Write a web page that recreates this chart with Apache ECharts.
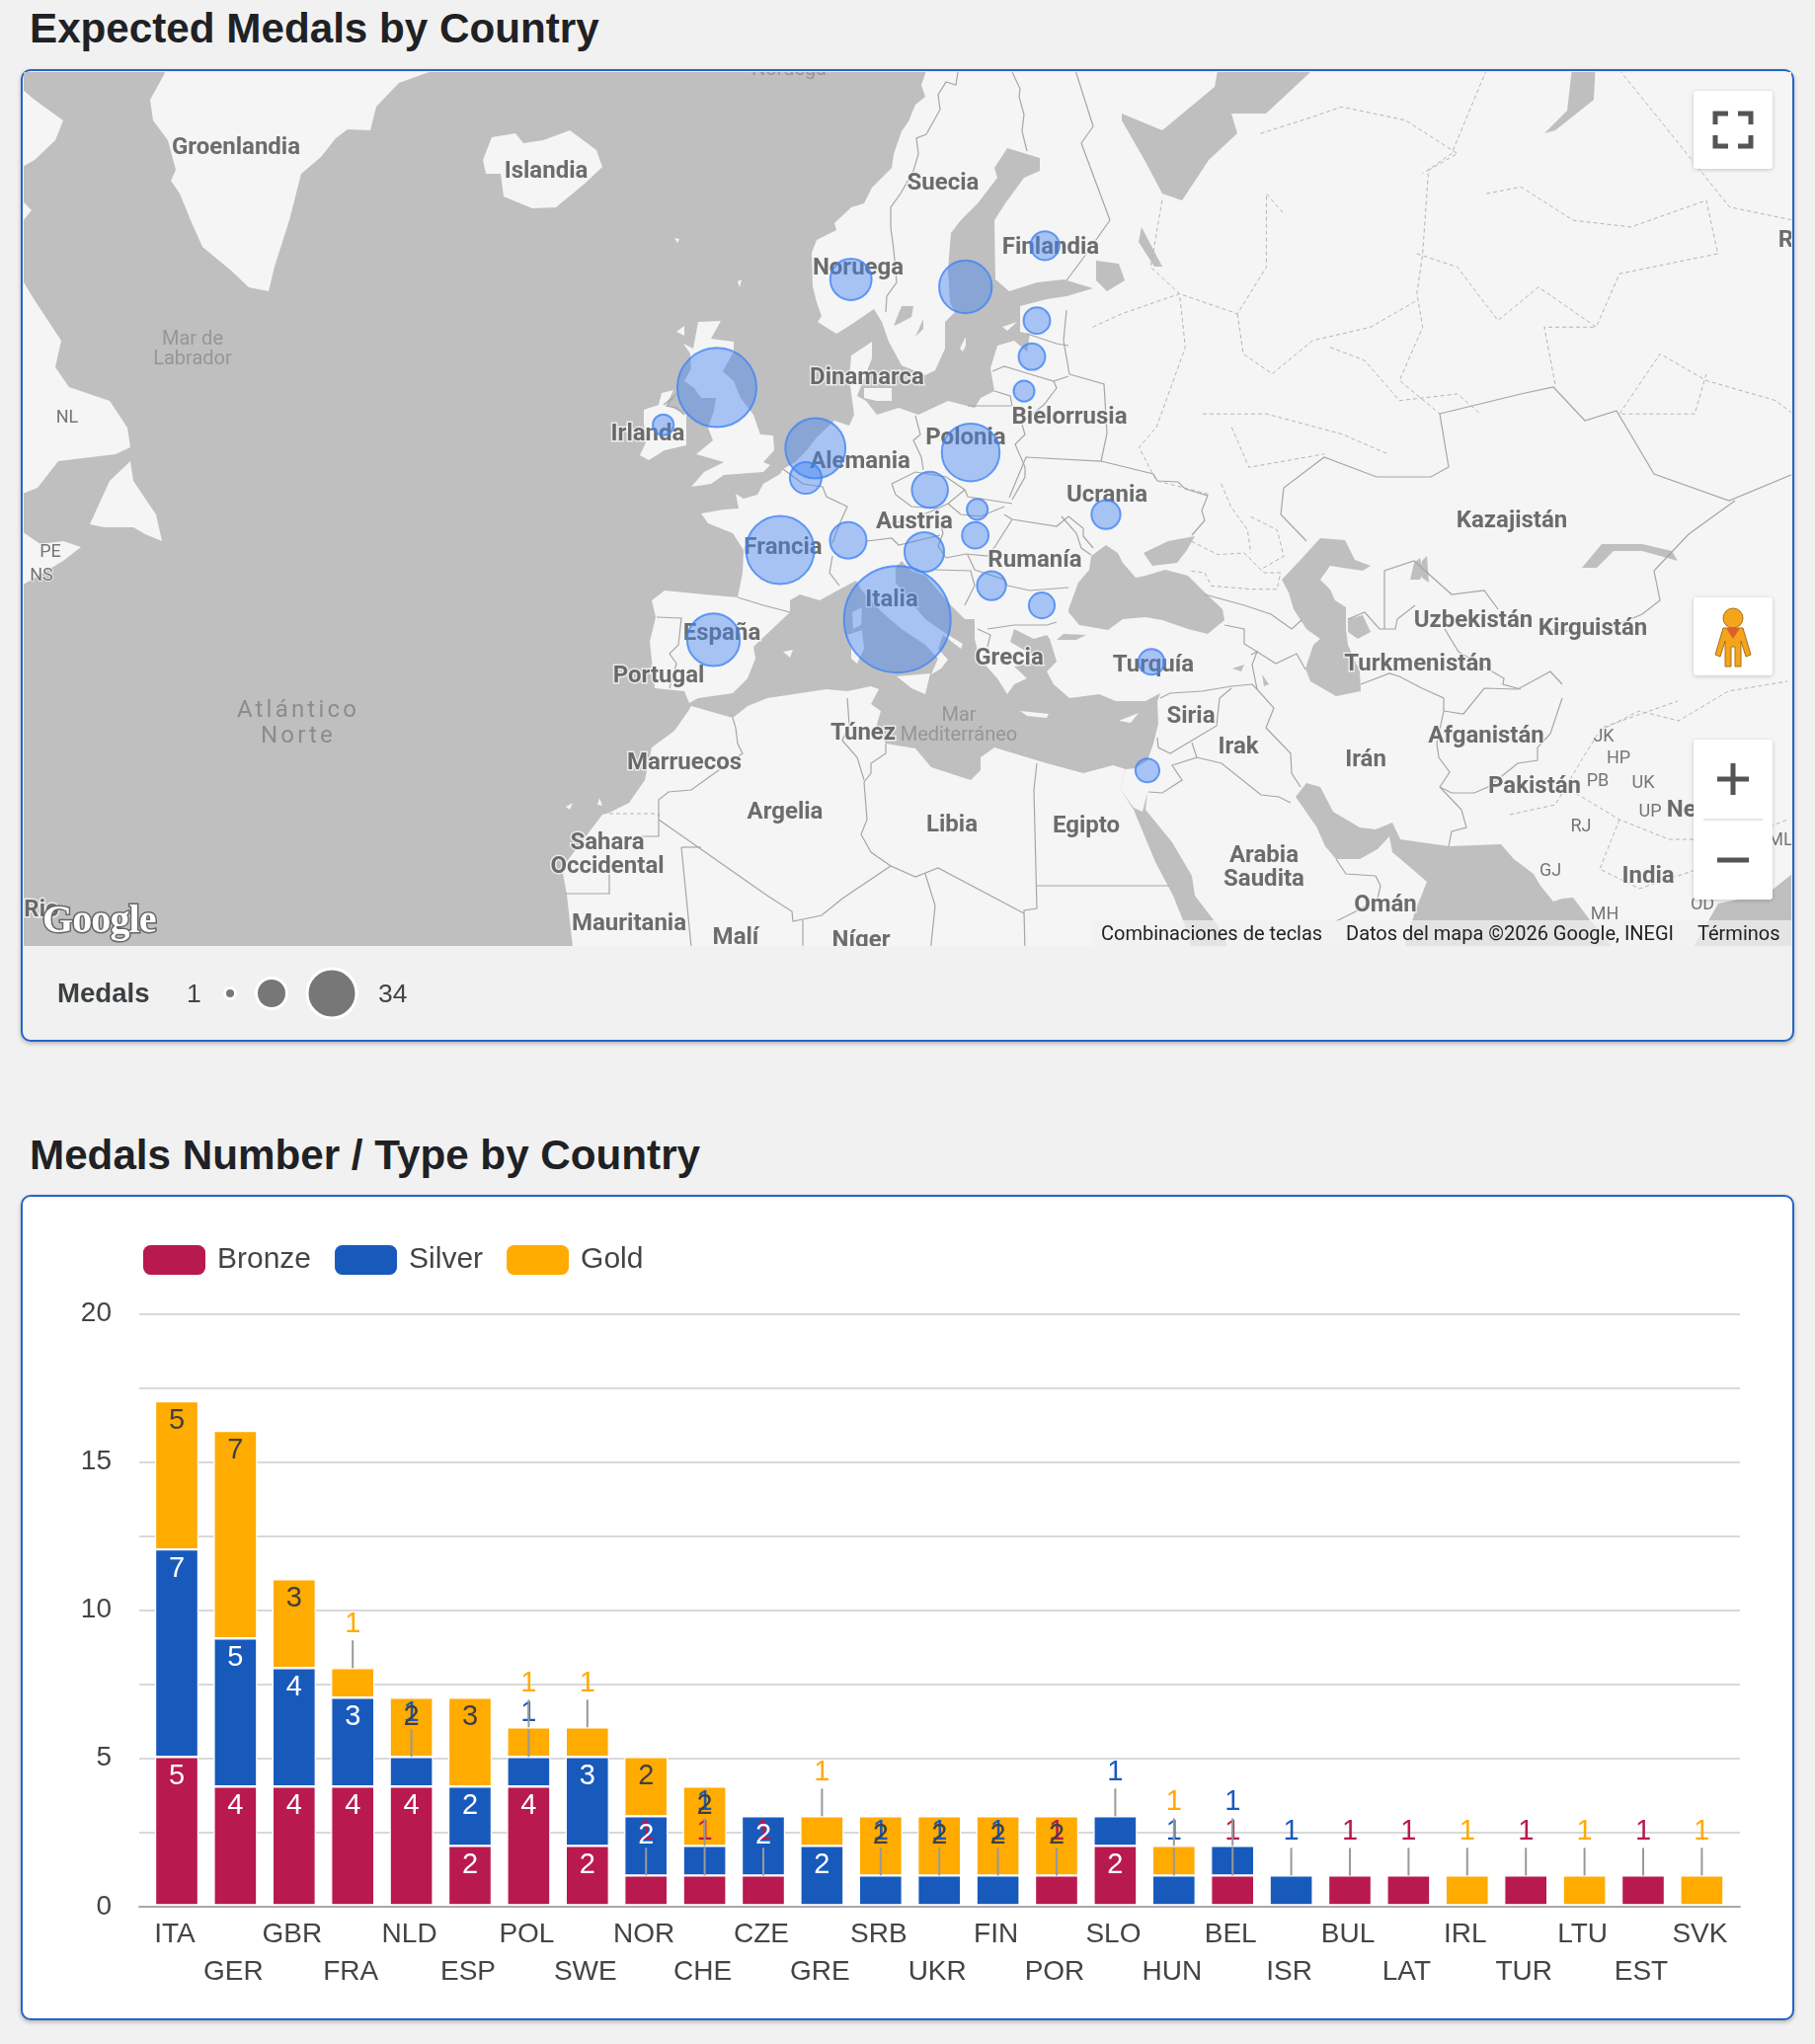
<!DOCTYPE html>
<html><head><meta charset="utf-8"><title>Medals</title>
<script src="https://cdn.jsdelivr.net/npm/echarts@6/dist/echarts.min.js"></script>
<style>
html,body{margin:0;padding:0;background:#f1f1f1;font-family:"Liberation Sans",Arial,sans-serif;width:1838px;height:2070px;overflow:hidden}
.abs{position:absolute}
h1{position:absolute;left:30px;margin:0;font-size:42.2px;line-height:48px;font-weight:bold;color:#202124;white-space:nowrap}
.card{position:absolute;left:21px;width:1796px;box-sizing:border-box;border:2.5px solid #2465c6;border-radius:10px;box-shadow:0 2px 4px rgba(0,0,0,.25);overflow:hidden}
.ctl{position:absolute;background:#fff;border-radius:3px;box-shadow:0 1px 4px rgba(0,0,0,.2)}
.attr{position:absolute;font:20px Roboto,sans-serif;color:#222;white-space:nowrap;line-height:26px;top:932px}
.dot{position:absolute;border-radius:50%;background:#777;border:3px solid #fff;box-sizing:content-box;transform:translate(-50%,-50%)}
.sea{position:absolute;font:24px/26px Roboto,sans-serif;letter-spacing:3.2px;color:#8c8c8c;text-align:center;transform:translateX(-50%);white-space:nowrap}
</style></head><body>
<h1 style="top:5px">Expected Medals by Country</h1>
<h1 style="top:1146px">Medals Number / Type by Country</h1>
<div class="card" style="top:70px;height:985px;background:#f1f1f1"></div>
<div class="card" style="top:1210px;height:836px;background:#fff"></div>
<div id="map" class="abs" style="left:24px;top:73px;width:1790px;height:885px"></div>
<div id="bars" class="abs" style="left:0;top:1200px;width:1838px;height:870px"></div>

<div class="sea" style="left:302px;top:705px">Atlántico<br>Norte</div>
<div class="abs" style="left:1106px;top:932px;width:708px;height:26px;background:rgba(240,240,240,.75)"></div>
<div class="attr" style="left:1115px">Combinaciones de teclas</div>
<div class="attr" style="left:1363px">Datos del mapa ©2026 Google, INEGI</div>
<div class="attr" style="left:1719px">Términos</div>
<div class="abs" style="left:43px;top:908px;font:bold 40px 'Liberation Serif',serif;color:#fff;-webkit-text-stroke:3px #666;paint-order:stroke fill;letter-spacing:-.9px;line-height:46px">Google</div>

<div class="ctl" style="left:1715px;top:92px;width:80px;height:79px">
<svg width="80" height="79" fill="none" stroke="#555" stroke-width="5"><path d="M22 34V23H35M45 23H58V34M58 45V56H45M35 56H22V45"/></svg></div>
<div class="ctl" style="left:1715px;top:605px;width:80px;height:79px">
<svg width="80" height="79"><circle cx="40" cy="21" r="10" fill="#f5a41c" stroke="#a8701a"/><path d="M30 31H50L58 58L53 60L48 44V70H42V50H38V70H32V44L27 60L22 58Z" fill="#f5a41c" stroke="#a8701a"/><path d="M33 31H47L40 42Z" fill="#d8622a"/></svg></div>
<div class="ctl" style="left:1715px;top:749px;width:80px;height:162px">
<svg width="80" height="162" fill="none" stroke="#555" stroke-width="5"><path d="M40 24V56M24 40H56M24 122H56"/><path d="M10 81H70" stroke="#e6e6e6" stroke-width="2"/></svg></div>

<div class="abs" style="left:58px;top:990px;font:bold 27.6px 'Liberation Sans';color:#3c4043;line-height:32px">Medals</div>
<div class="abs" style="left:189px;top:990px;font:26.5px 'Liberation Sans';color:#444;line-height:32px">1</div>
<div class="dot" style="left:233px;top:1006px;width:8px;height:8px"></div>
<div class="dot" style="left:275px;top:1006px;width:28px;height:28px"></div>
<div class="dot" style="left:336px;top:1006px;width:47px;height:47px"></div>
<div class="abs" style="left:383px;top:990px;font:26.5px 'Liberation Sans';color:#444;line-height:32px">34</div>

<script>
// ---------- chart data ----------
const categories = ['ITA','GER','GBR','FRA','NLD','ESP','POL','SWE','NOR','CHE','CZE','GRE','SRB','UKR','FIN','POR','SLO','HUN','BEL','ISR','BUL','LAT','IRL','TUR','LTU','EST','SVK'];
const bronze = [5,4,4,4,4,2,4,2,1,1,1,0,0,0,0,1,2,0,1,0,1,1,0,1,0,1,0];
const silver = [7,5,4,3,1,2,1,3,2,1,2,2,1,1,1,0,1,1,1,1,0,0,0,0,0,0,0];
const gold   = [5,7,3,1,2,3,1,1,2,2,0,1,2,2,2,2,0,1,0,0,0,0,1,0,1,0,1];
const yTicks = [0,5,10,15,20];
// bubbles: country, lon, lat, expected medals
const bubbleNames = ['ITA','GBR','FRA','NLD','POL','SWE','ESP','NOR','SLO','CHE','CZE','BEL','FIN','UKR','SRB','EST','LAT','HUN','BUL','TUR','ISR','IRL','SVK','LTU'];
const bubbleLon = [12.86,-3.2,2.43,5.57,19.39,18.93,-3.5,8.73,15.26,8.49,15.76,4.71,26.0,31.43,21.24,25.28,24.84,19.8,25.72,35.48,35.12,-7.97,19.98,24.14];
const bubbleLat = [42.8,56.1,47.16,52.96,52.74,60.78,41.45,61.1,47.04,47.74,50.68,51.34,62.52,49.26,44.96,59.28,57.6,48.04,43.7,39.96,32.16,54.2,49.56,55.92];
const bubbleVal = [34,18.7,13.9,10.8,10,8.3,8.3,5.1,4.7,4,3.9,3,2.5,2.5,2.5,2.1,2.1,2.1,2,2,1.7,1.3,1.3,1.3];

// ---------- map geometry helpers (Web Mercator, zoom scale of the reference) ----------
const K = 11.378, X0 = 908, Y0 = 627, LON0 = 12.8, M0 = 47.46;
const rad = Math.PI/180;
const mercDeg = lat => Math.log(Math.tan(Math.PI/4 + lat*rad/2))/rad;
const invMerc = m => (2*Math.atan(Math.exp(m*rad)) - Math.PI/2)/rad;
const toLL = (x,y) => [LON0 + (x-X0)/K, invMerc(M0 + (Y0-y)/K)];
const crops = {A:[560,73,3,3],B:[560,480,3,3],C:[1060,480,3,3],Z:[919,0,1.706,1.479]};
function pts(flat, crop){const out=[];const c=crop?crops[crop]:[0,0,1,1];for(let i=0;i<flat.length;i+=2)out.push(toLL(c[0]+flat[i]/c[2],c[1]+flat[i+1]/c[3]));return out;}

const landRings = [
// Greenland
[158,60,440,60,440,71,404,84,381,108,375,132,352,131,340,140,325,159,305,176,293,223,278,270,272,295,252,291,234,274,205,250,193,223,182,196,173,183,178,172,170,142,155,122,152,101,167,74],
// Iceland
[489,162,498,139,522,135,530,145,550,142,577,132,604,152,610,169,592,186,563,210,539,211,510,199,507,176,492,176],
// Canada pieces
[10,85,23,91,35,101,64,122,56,142,35,162,10,176],
[10,190,32,213,10,240],
[10,280,23,284,35,304,62,345,56,372,70,392,111,406,129,433,132,453,117,460,59,467,38,494,10,505],
[91,531,111,487,132,467,135,487,158,521,164,548,147,541,135,534,105,534],
[10,600,64,568,82,554,64,548,41,551,10,530],
// Ireland, Britain, small isles
[652,415,667,410,670,398,682,395,675,410,695,420,695,451,673,456,657,466,648,461,655,446,652,430],
[707,326,730,325,720,343,743,346,743,356,732,376,743,386,750,403,763,420,770,440,783,441,784,456,773,468,780,471,773,478,733,481,720,490,700,493,713,478,733,468,705,460,722,446,717,433,723,416,725,403,710,403,703,393,693,386,700,373,699,358,692,348,702,353],
[685,336,693,330,693,340],[683,241,688,242,686,246],[747,285,751,283,749,291],
// Eurasia
[940,50,940,66,933,86,937,98,927,106,920,123,913,133,905,156,903,170,883,190,875,206,862,210,845,226,847,233,827,243,822,256,823,290,827,306,832,320,828,326,847,338,860,330,885,313,893,326,900,346,913,370,937,380,947,375,957,353,957,326,967,316,962,306,960,273,963,236,973,223,990,206,1010,180,1007,170,1020,150,1053,160,1053,173,1037,180,1018,206,1007,223,1008,283,1022,295,1050,286,1077,283,1107,292,1080,300,1060,303,1033,310,1033,336,1043,338,1040,356,1027,345,1010,350,1003,373,1007,396,993,403,987,413,960,406,930,420,910,413,888,420,877,406,868,401,877,378,883,363,883,346,862,360,860,383,865,420,860,431,845,426,827,443,817,456,805,468,793,475,790,480,773,490,767,501,753,505,745,500,748,515,733,516,710,520,717,530,742,540,753,557,752,580,747,605,713,602,673,598,660,608,664,625,658,650,663,697,693,700,698,712,707,707,742,702,757,687,765,667,763,655,800,620,800,608,810,602,830,608,850,597,867,588,872,597,893,620,913,637,937,653,950,667,943,683,953,677,960,668,950,657,955,643,973,657,975,652,960,643,937,627,920,607,907,590,907,575,913,568,923,578,937,583,963,613,977,627,987,627,987,647,992,667,1010,687,1020,703,1027,693,1040,687,1027,675,1050,670,1040,660,1023,650,1027,637,1047,647,1060,643,1063,647,1070,670,1060,680,1067,693,1083,707,1113,703,1130,710,1160,710,1175,702,1172,710,1173,733,1168,753,1162,770,1150,778,1140,779,1135,800,1148,818,1157,822,1162,802,1160,820,1187,853,1207,887,1210,907,1233,937,1247,967,1260,985,1422,985,1422,960,1433,923,1445,893,1430,880,1410,863,1407,847,1395,860,1377,870,1353,870,1342,857,1333,837,1312,807,1323,793,1337,797,1350,822,1377,838,1393,840,1410,833,1418,850,1467,857,1520,855,1533,870,1553,885,1560,897,1573,913,1582,910,1593,909,1611,933,1634,960,1640,985,1700,985,1740,915,1790,905,1815,885,1845,870,1845,50],
// Africa
[700,715,742,727,757,715,777,707,837,698,858,700,882,695,890,698,882,713,892,720,887,737,897,753,927,758,943,777,983,790,993,780,993,767,1007,757,1050,770,1060,773,1097,783,1127,775,1140,779,1135,800,1148,820,1170,873,1188,907,1200,937,1207,963,1210,985,575,985,580,959,574,906,569,879,610,825,617,823,637,813,653,790,660,757,683,740,697,720],
// Mediterranean & Baltic islands
[863,620,873,615,872,633,864,637],[858,643,873,638,875,657,868,672,862,667,862,657],[908,685,942,682,937,703,923,697],[793,660,803,658,800,666],[1033,720,1062,723,1060,727,1040,725],[1133,730,1153,722,1145,732],[972,353,978,341,978,350,975,356],[1015,331,1030,326,1020,335],[875,393,903,393,903,406,888,406,875,403],
[573,817,580,813,577,820],[605,815,607,808,610,816]
];
const waterRings = [
// Black Sea, Azov
[1082,617,1092,590,1103,577,1105,563,1120,552,1132,560,1137,570,1150,585,1160,583,1180,577,1203,583,1220,600,1238,617,1240,628,1223,642,1203,637,1177,628,1160,625,1137,627,1122,638,1093,633,1082,620],
[1158,560,1183,548,1210,543,1202,557,1192,570,1167,573],
// Caspian, Kara-Bogaz, Aral
[1298,587,1317,567,1337,545,1362,547,1372,567,1388,573,1380,578,1360,575,1347,573,1337,587,1347,597,1352,608,1363,615,1363,637,1365,653,1377,680,1378,700,1353,705,1327,690,1322,677,1330,653,1337,647,1323,637,1310,617,1305,600],
[1365,627,1380,623,1388,640,1375,647,1365,640],
[1428,587,1432,570,1438,565,1442,580,1438,587],[1440,585,1440,568,1445,563,1447,590],
// White Sea & Arctic gulfs
[1136,115,1177,132,1230,88,1235,60,1341,60,1282,115,1247,115,1253,135,1224,162,1197,203,1177,196,1159,162,1136,122],
[1593,60,1616,60,1614,101,1575,132,1564,135,1587,112],
// Lakes and small seas
[1110,264,1133,267,1139,284,1121,295,1110,284],[1156,230,1177,270,1169,270,1153,245],
[905,330,913,310,925,310,923,321,910,328],[927,341,935,323,935,333],
[1602,575,1622,551,1663,551,1693,558,1699,568,1663,558,1634,558,1617,575],
[1248,677,1260,673,1257,680],[1278,683,1285,693,1280,695],[1070,648,1077,642,1100,643,1090,648]
];

const features = [];
landRings.forEach((r,i)=>features.push({type:'Feature',properties:{name:'L'+i},geometry:{type:'Polygon',coordinates:[pts(r)]}}));
waterRings.forEach((r,i)=>features.push({type:'Feature',properties:{name:'W'+i},geometry:{type:'Polygon',coordinates:[pts(r)]}}));
echarts.registerMap('base',{type:'FeatureCollection',features});

const borders = [
pts([742,727,745,737,747,753,752,763,725,782,700,800,677,802,667,810,667,827]),
pts([667,824,667,847,650,847]),pts([617,873,617,905,572,905]),
pts([667,830,777,907,802,923,803,933,832,927,853,910,902,877,927,888,950,879,1037,925]),
pts([690,858,710,858]),pts([690,858,700,959]),
pts([858,707,860,733,853,750,868,767,875,790]),pts([897,753,897,763,882,773,882,783,875,792]),
pts([875,792,878,830,872,845,882,863,902,877]),pts([1050,773,1047,800,1050,920,1037,922,1038,965]),
pts([1050,897,1184,897]),pts([813,932,813,965]),pts([937,885,947,917,942,965]),
pts([970,73,968,86,958,83,950,96,952,111,938,136,928,140,930,156,925,173,912,196,902,210,902,230,905,253,908,286,898,300,897,316]),
pts([1025,73,1033,90,1032,98,1037,116,1035,133,1040,153]),
pts([1089,71,1107,128,1095,145,1124,223,1095,264,1080,284]),
pts([1080,314,1077,345,1083,379]),pts([1040,338,1070,348,1082,350]),pts([1005,376,1017,371,1040,378,1067,386,1082,381]),
pts([1083,379,1118,389,1121,439,1115,467,1039,463,1022,504]),
pts([1067,386,1070,393,1057,410,1037,426]),pts([1035,430,1038,440,1028,450,1038,473,1038,483,1025,506]),
pts([1007,396,1023,401,1025,411,980,411]),pts([927,421,932,440,925,446,933,463,935,476]),
pts([903,490,927,478,958,483,977,496,980,503,1025,510]),pts([903,490,907,501,923,513,950,515,960,510,977,496]),
pts([960,510,973,521,993,523,1017,513]),pts([1017,521,1025,526,1070,533,1082,523,1097,535,1097,543,1107,555]),
pts([1075,523,1090,540,1095,555,1105,562]),
pts([1115,467,1168,480,1172,487,1193,488,1200,495,1223,502,1217,517,1220,527,1207,542]),
pts([1025,526,1008,553,1000,563,978,561,958,565]),pts([952,528,955,540,950,553,958,565]),
pts([793,475,813,490,833,493,837,503,858,513,850,531,843,550]),pts([878,548,903,545,910,552,952,542]),
pts([887,533,923,526,950,515]),pts([843,563,840,580,850,593]),pts([747,605,773,613,800,620]),
pts([665,625,690,626,687,653,678,662,685,672,678,697]),pts([672,410,683,401,675,411,685,413,693,420]),
pts([947,577,983,578,987,593,977,613]),pts([1020,593,1043,598,1082,595]),pts([1000,637,1027,633,1060,633,1070,630]),
pts([990,637,1003,643,1000,655]),pts([980,562,987,577,1017,587,1020,593]),
pts([1175,707,1185,702,1217,700,1247,695,1268,693,1273,698]),pts([1247,697,1235,707,1232,735,1185,763,1173,757,1172,747]),
pts([1207,752,1212,767,1187,775,1197,790,1177,803,1163,802]),pts([1212,767,1237,773,1277,805,1295,807,1307,813]),
pts([1273,698,1290,717,1282,737,1307,763,1308,783,1317,797]),pts([1267,663,1273,660,1268,673,1273,698]),
pts([1273,660,1292,672,1313,662,1322,678]),pts([1220,602,1260,613,1287,622,1308,637,1318,628]),
pts([1240,633,1260,637,1260,652,1273,660]),pts([1378,693,1407,682,1417,685,1440,697,1462,707,1462,720]),
pts([1365,627,1382,620,1397,637,1413,637,1415,627,1433,613]),pts([1463,637,1477,660,1523,687,1522,693,1540,698]),
pts([1402,637,1402,578,1432,568,1470,602,1503,598,1517,617]),
pts([1462,720,1455,753,1457,767,1468,782,1458,797]),pts([1458,797,1470,803,1493,803,1507,797,1537,773,1557,770,1557,757,1570,743,1582,707]),
pts([1458,797,1480,820,1485,838,1470,842,1467,857]),pts([1462,720,1482,723,1503,697,1537,698,1570,680,1582,693]),
pts([1353,870,1363,885,1393,887,1398,897,1395,910,1373,923,1353,933]),
pts([1458,419,1467,473,1449,483,1394,483,1341,463,1300,494,1297,521,1323,548]),
pts([1458,419,1540,399,1573,392,1605,426,1637,416,1675,480,1751,507,1816,480]),
pts([1757,507,1710,541,1675,578,1681,608,1663,622,1616,642,1567,637])
];
const dashed = [
pts([617,824,667,824]),
pts([610,200,700,175,750,160,860,180,950,230,900,255,890,380,880,440,890,490,850,570,920,620],'Z'),
pts([440,300,420,400,470,440,570,470,620,400,620,290,650,320],'Z'),
pts([320,490,370,470,470,440,480,520,430,640,400,670,430,720,520,740],'Z'),
pts([570,470,580,530,630,560,700,510,800,490,880,450],'Z'),
pts([730,520,790,540,850,600,950,590,990,620],'Z'),
pts([880,380,950,400,1020,480,1090,430,1190,490,1100,490,1120,580],'Z'),
pts([1000,290,1060,280,1150,330,1250,340,1380,300,1400,380,1230,410,1190,490],'Z'),
pts([1380,560,1360,620,1230,620,1300,530,1380,570,1500,600,1530,620],'Z'),
pts([1000,105,940,230,890,260],'Z'),pts([1230,105,1300,180,1420,310,1530,330],'Z'),
pts([560,640,590,700,720,680],'Z'),pts([510,620,620,620,750,650,830,680],'Z'),
pts([440,205,520,245,600,240,660,300,710,300,700,350,620,350,500,340,480,300,440,295],'C'),
pts([620,130,700,170,720,250,650,290],'C'),pts([530,30,560,100,610,170,620,240],'C'),
pts([1529,825,1575,815,1605,764,1622,737,1699,710]),
pts([1620,740,1660,720,1700,730,1750,700,1810,690]),pts([1590,800,1640,830,1690,850,1760,850,1810,830]),pts([1640,830,1620,880,1660,900,1720,880])
];

// map text: label, reference-frame centre x, y
const countryLabels = [['Groenlandia',240,147],['Islandia',554,171],['Noruega',870,269],['Irlanda',657,437],['Dinamarca',879,380],['Suecia',956,183],['Finlandia',1065,248],['Bielorrusia',1084,420],['Polonia',979,441],['Alemania',872,465],['Ucrania',1122,499],['Austria',927,526],['Francia',794,552],['Rumanía',1049,565],['Italia',904,605],['España',732,639],['Portugal',668,682],['Grecia',1023,664],['Turquía',1169,671],['Siria',1207,723],['Irak',1255,754],['Irán',1384,767],['Kazajistán',1532,525],['Uzbekistán',1493,626],['Kirguistán',1614,634],['Turkmenistán',1437,670],['Afganistán',1506,743],['Pakistán',1555,794],['India',1670,885],['Nepal',1720,818],['Arabia\nSaudita',1281,876],['Omán',1404,914],['Egipto',1101,834],['Libia',965,833],['Argelia',796,820],['Túnez',875,740],['Marruecos',694,770],['Sahara\nOccidental',616,863],['Mauritania',638,933],['Malí',746,947],['Níger',873,950],['Rusia',1832,241],['Rio',43,919]];
const stateLabels = [['NL',69,421],['PE',52,557],['NS',43,581],['JK',1625,744],['HP',1640,766],['PB',1619,789],['UK',1665,791],['UP',1672,820],['RJ',1602,835],['GJ',1571,880],['MH',1626,924],['OD',1725,914],['ML',1804,849]];
const seaLabels = [['Mar de\nLabrador',196,351],['Mar\nMediterráneo',972,732],['Noruega',800,68]];
const toPoint = a => ({name:a[0],value:toLL(a[1],a[2])});

const mapChart = echarts.init(document.getElementById('map'));
const corner1 = toLL(24,73), corner2 = toLL(1814,958);
function textSeries(list,z,label){return {type:'scatter',coordinateSystem:'geo',silent:true,z,symbolSize:1,itemStyle:{color:'transparent'},
  data:list.map(toPoint),label:Object.assign({show:true,position:'inside',offset:[-1,2.5],formatter:p=>p.name},label)};}
mapChart.setOption({
  animation:false,backgroundColor:'#bfbfbf',
  geo:{map:'base',silent:true,roam:false,left:0,top:0,width:1790,height:885,
    projection:{project:p=>[K*p[0],-K*mercDeg(p[1])],unproject:p=>[p[0]/K,invMerc(-p[1]/K)]},
    boundingCoords:[corner1,corner2],
    itemStyle:{areaColor:'#f5f5f5',borderWidth:0},
    regions:waterRings.map((r,i)=>({name:'W'+i,itemStyle:{areaColor:'#bfbfbf'}}))},
  series:[
    {type:'lines',coordinateSystem:'geo',polyline:true,silent:true,z:2,data:borders.map(c=>({coords:c})),lineStyle:{color:'#a6a6a6',width:1.2,opacity:1}},
    {type:'lines',coordinateSystem:'geo',polyline:true,silent:true,z:2,data:dashed.map(c=>({coords:c})),lineStyle:{color:'#b4b4b4',width:1,type:[4,3],opacity:1}},
    textSeries(seaLabels,3,{color:'#8c8c8c',fontFamily:'Roboto',fontSize:20,lineHeight:20}),
    textSeries(stateLabels,3,{color:'#555',fontFamily:'Roboto',fontSize:18,textBorderColor:'#f5f5f5',textBorderWidth:2}),
    textSeries(countryLabels,3,{color:'#4a4a4a',fontFamily:'Roboto',fontWeight:'bold',fontSize:24,lineHeight:24,textBorderColor:'#f5f5f5',textBorderWidth:3}),
    {type:'scatter',coordinateSystem:'geo',name:'Medals',z:4,
      data:bubbleNames.map((n,i)=>({name:n,value:[bubbleLon[i],bubbleLat[i],bubbleVal[i]]})),
      symbolSize:v=>2*9.26*Math.sqrt(v[2]),
      itemStyle:{color:'rgba(66,133,244,0.55)',borderColor:'#4285f4',borderWidth:2}}
  ]
});

// ---------- bar chart ----------
const seriesDefs = [['Bronze',bronze,'#b8194f'],['Silver',silver,'#185abc'],['Gold',gold,'#ffab00']];
const big = [], small = [];
categories.forEach((c,i)=>{let top=0;seriesDefs.forEach((s,j)=>{const v=s[1][i];if(!v)return;top+=v;(v>1?big:small).push([i,top,v,j]);});});
const labelFont = '29px "Liberation Sans"';
const barChart = echarts.init(document.getElementById('bars'));
barChart.setOption({
  animation:false,
  textStyle:{fontFamily:'Liberation Sans'},
  legend:{left:140,top:56,itemWidth:63,itemHeight:30,itemGap:24,icon:'roundRect',
    itemStyle:{borderWidth:0},
    data:seriesDefs.map(s=>s[0]),selectedMode:false,textStyle:{fontSize:30,color:'#444',padding:[0,0,0,7]}},
  grid:[{left:141,width:1621,top:130.4,height:600.4},{left:149.3,width:1603.8,top:129,height:600.4}],
  xAxis:[
    {gridIndex:0,type:'category',data:[''],axisLine:{lineStyle:{color:'#a8a8a8',width:2}},axisTick:{show:false},axisLabel:{show:false}},
    {gridIndex:1,type:'category',data:categories,axisLine:{show:false},axisTick:{show:false},
      axisLabel:{interval:0,margin:10.4,fontSize:28,color:'#444',lineHeight:38,hideOverlap:false,padding:[0,4,0,0],formatter:(v,i)=>i%2?'\n'+v:v}}
  ],
  yAxis:[
    {gridIndex:0,type:'value',min:0,max:20,interval:2.5,axisLine:{show:false},axisTick:{show:false},
      splitLine:{lineStyle:{color:'#d9d9d9',width:2}},
      axisLabel:{margin:28,fontSize:28,color:'#444',formatter:v=>yTicks.includes(v)?String(v):''}},
    {gridIndex:1,type:'value',min:0,max:20,show:false}
  ],
  series:[
    ...seriesDefs.map(s=>({name:s[0],type:'bar',stack:'medals',xAxisIndex:1,yAxisIndex:1,barWidth:44,z:2,silent:true,
      data:s[1].map(v=>v||null),itemStyle:{color:s[2],borderColor:'#fff',borderWidth:1.2}})),
    {type:'custom',name:'single',xAxisIndex:1,yAxisIndex:1,z:3,silent:true,clip:false,data:small,encode:{x:0,y:1},
      renderItem:(p,api)=>{const pt=api.coord([api.value(0),api.value(1)]);const col=seriesDefs[api.value(3)][2];
        return {type:'group',children:[
          {type:'line',shape:{x1:pt[0],y1:pt[1],x2:pt[0],y2:pt[1]-28},style:{stroke:'#999',lineWidth:2}},
          {type:'text',style:{text:String(api.value(2)),x:pt[0],y:pt[1]-44,align:'center',verticalAlign:'middle',fill:col,font:labelFont}}
        ]};}},
    {type:'custom',name:'inside',xAxisIndex:1,yAxisIndex:1,z:4,silent:true,clip:false,data:big,encode:{x:0,y:1},
      renderItem:(p,api)=>{const pt=api.coord([api.value(0),api.value(1)]);
        return {type:'text',style:{text:String(api.value(2)),x:pt[0],y:pt[1]+20,align:'center',verticalAlign:'middle',fill:api.value(3)===2?'#404040':'#fff',font:labelFont}};}}
  ]
});
</script>
</body></html>
